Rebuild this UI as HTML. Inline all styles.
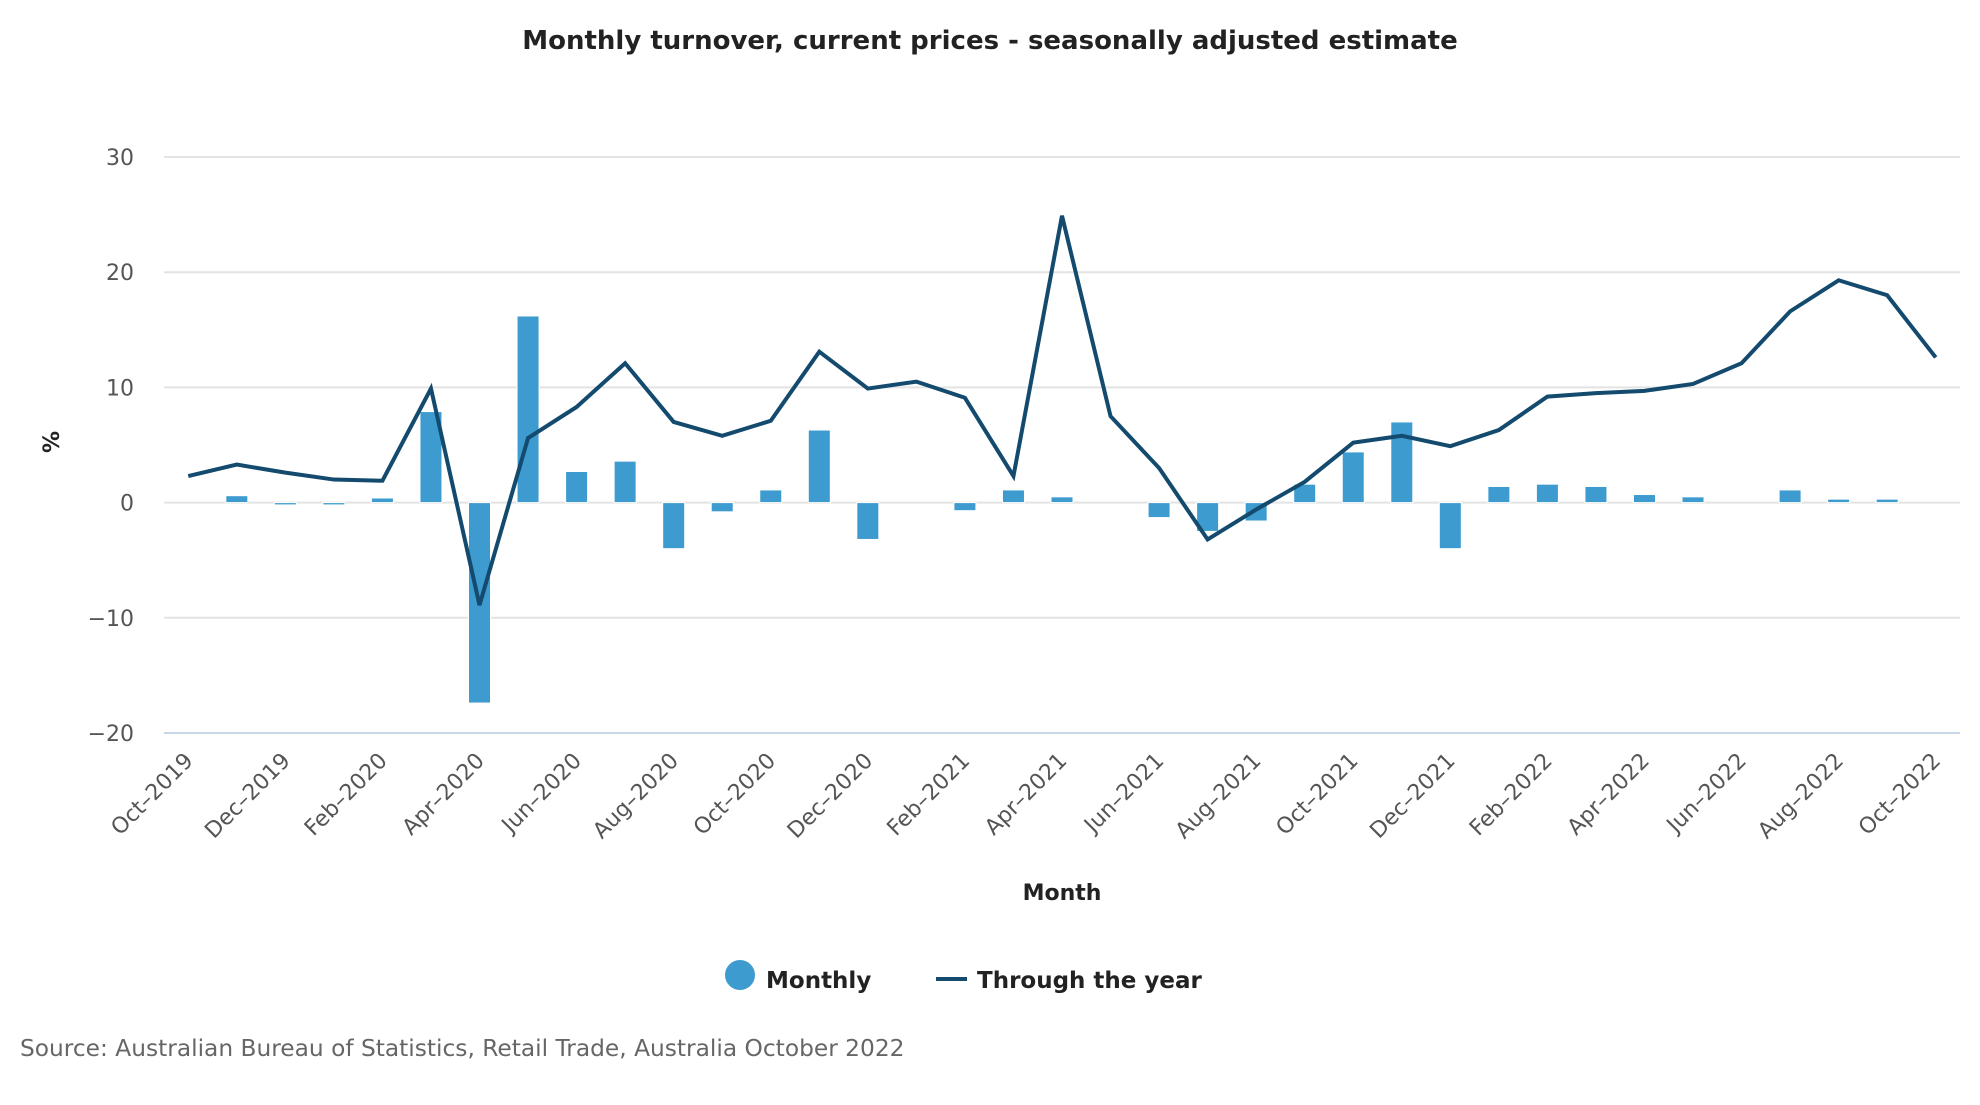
<!DOCTYPE html>
<html><head><meta charset="utf-8"><style>
body{margin:0;background:#fff;}
svg text{font-family:"DejaVu Sans","Liberation Sans",sans-serif;}
</style></head><body>
<svg id="chart" width="1980" height="1100" xmlns="http://www.w3.org/2000/svg">
<text x="990" y="49" text-anchor="middle" font-size="26" font-weight="bold" fill="#222">Monthly turnover, current prices - seasonally adjusted estimate</text>
<g id="grid"></g><g id="bars"></g><g id="line"></g><g id="xl"></g>
<text transform="translate(59,442) rotate(-90)" text-anchor="middle" font-size="22" font-weight="bold" fill="#222">%</text>
<text x="1062" y="900" text-anchor="middle" font-size="22" font-weight="bold" fill="#222">Month</text>
<g><circle cx="740" cy="975" r="15" fill="#3d9bd0"/><text x="766" y="988" font-size="23" font-weight="bold" fill="#222">Monthly</text></g>
<g><line x1="936" y1="979" x2="967" y2="979" stroke="#134a6e" stroke-width="4"/><text x="977" y="988" font-size="23" font-weight="bold" fill="#222">Through the year</text></g>
<text x="20" y="1056" font-size="23.3" fill="#666">Source: Australian Bureau of Statistics, Retail Trade, Australia October 2022</text>
</svg>
<script>
const categories=["Oct-2019","Nov-2019","Dec-2019","Jan-2020","Feb-2020","Mar-2020","Apr-2020","May-2020","Jun-2020","Jul-2020","Aug-2020","Sep-2020","Oct-2020","Nov-2020","Dec-2020","Jan-2021","Feb-2021","Mar-2021","Apr-2021","May-2021","Jun-2021","Jul-2021","Aug-2021","Sep-2021","Oct-2021","Nov-2021","Dec-2021","Jan-2022","Feb-2022","Mar-2022","Apr-2022","May-2022","Jun-2022","Jul-2022","Aug-2022","Sep-2022","Oct-2022"];
const monthly=[0,0.6,-0.2,-0.2,0.4,7.9,-17.4,16.2,2.7,3.6,-4.0,-0.8,1.1,6.3,-3.2,0,-0.7,1.1,0.5,0,-1.3,-2.5,-1.6,1.6,4.4,7.0,-4.0,1.4,1.6,1.4,0.7,0.5,0,1.1,0.3,0.3,0];
const throughYear=[2.3,3.3,2.6,2.0,1.9,9.9,-8.9,5.6,8.3,12.1,7.0,5.8,7.1,13.1,9.9,10.5,9.1,2.3,24.9,7.5,3.0,-3.2,-0.6,1.8,5.2,5.8,4.9,6.3,9.2,9.5,9.7,10.3,12.1,16.6,19.3,18.0,12.6];
const yTicks=[30,20,10,0,-10,-20];
const NS="http://www.w3.org/2000/svg";
const L=164,W=1796,band=W/categories.length;
const X=i=>L+band*(i+0.5);
const Y=v=>502.6-v*11.52;
function mk(t,a,p){const e=document.createElementNS(NS,t);for(const k in a)e.setAttribute(k,a[k]);p.appendChild(e);return e;}
const g=document.getElementById('grid');
yTicks.forEach(v=>{
 const ln=mk('line',{x1:L,x2:L+W,y1:Y(v),y2:Y(v),stroke:v===-20?'#c8d6e8':'#e3e3e3','stroke-width':2},g);
 
 
 const t=mk('text',{x:134,y:Y(v)+8,'text-anchor':'end','font-size':22,fill:'#555'},g);
 t.textContent=v<0?'\u2212'+Math.abs(v):v;
 
 
});
const b=document.getElementById('bars');
monthly.forEach((v,i)=>{
 if(!v)return;
 const h=Math.max(2,Math.abs(Y(v)-Y(0)));
 const y0=v>0?Y(0)-h:Y(0);
 const r=mk('rect',{x:X(i)-11,y:y0,width:22,height:h,fill:'#3d9bd0',stroke:'#fff','stroke-width':1},b);
 
 
});
const pts=throughYear.map((v,i)=>X(i)+','+Y(v)).join(' ');
const pl=mk('polyline',{points:pts,fill:'none',stroke:'#134a6e','stroke-width':4,'stroke-linejoin':'miter'},document.getElementById('line'));


const xl=document.getElementById('xl');
categories.forEach((c,i)=>{
 if(i%2)return;
 const t=mk('text',{transform:`translate(${X(i)+6},${762}) rotate(-45)`,'text-anchor':'end','font-size':22,fill:'#555'},xl);
 t.textContent=c.replace('-','\u2013');
 
 
});
</script>
</body></html>
